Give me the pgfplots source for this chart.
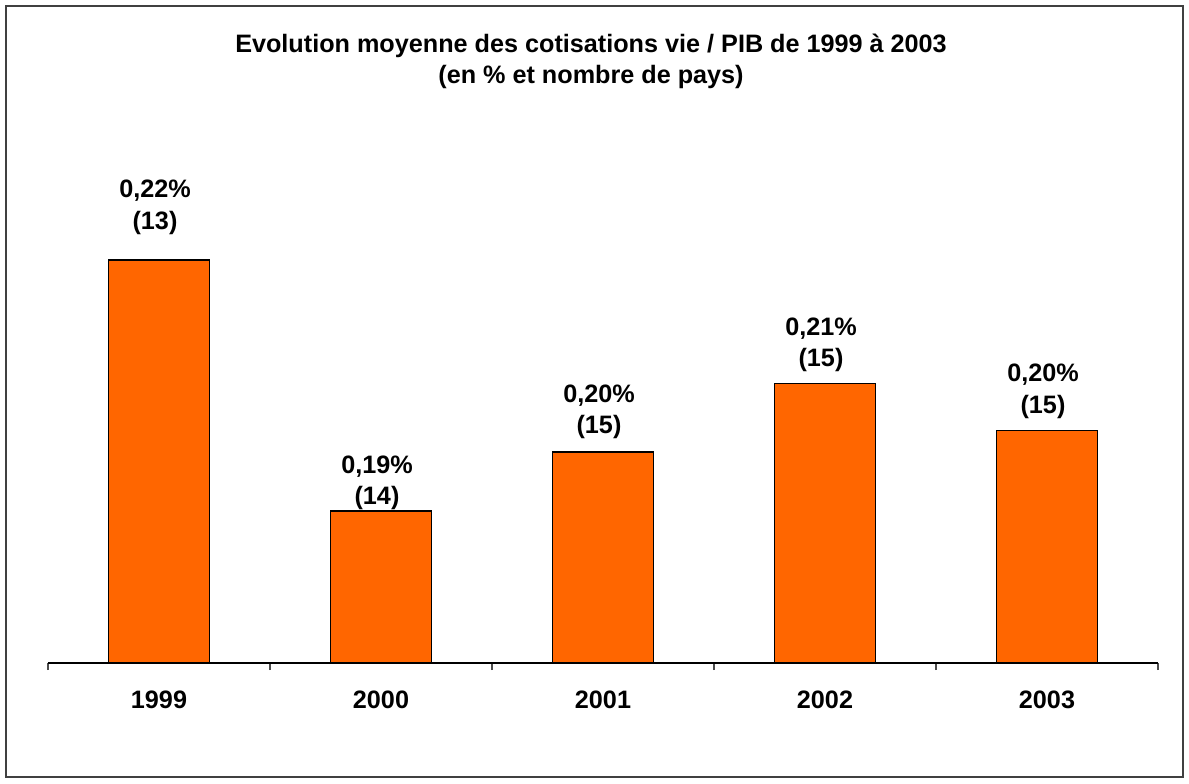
\documentclass[border=0pt]{standalone}
\usepackage{fontspec}
\setmainfont{Liberation Sans}
\usepackage{pgfplots}
\usepackage{pgfplotstable}
\pgfplotsset{compat=1.18}
\definecolor{barorange}{HTML}{FF6600}

\pgfplotstableread{
x y dy lab
0 0.2200 12.5 0,22\%\\(13)
1 0.1920 0 0,19\%\\(14)
2 0.1986 6 0,20\%\\(15)
3 0.2062 5.5 0,21\%\\(15)
4 0.2010 5.5 0,20\%\\(15)
}\datatable

\begin{document}
\begin{tikzpicture}
\begin{axis}[
    at={(0pt,0pt)}, anchor=south west,
    scale only axis,
    width=555pt, height=281.5pt,
    xmin=-0.5, xmax=4.5,
    ymin=0.175, ymax=0.2379,
    axis x line*=bottom,
    axis y line=none,
    x axis line style={-, line width=0.6pt},
    xtick={0,1,2,3,4},
    xticklabels={1999,2000,2001,2002,2003},
    minor xtick={-0.5,0.5,1.5,2.5,3.5,4.5},
    major tick length=0pt,
    minor tick length=3.5pt,
    tick align=outside,
    minor tick style={black!70, line width=0.6pt},
    xticklabel style={font=\fontsize{12.6}{15.8}\selectfont\bfseries,
        anchor=base, inner sep=0pt, yshift=-22.5pt},
    clip=true,
]
\addplot[ybar, bar width=50.5pt, fill=barorange, draw=black, line width=0.75pt,
    point meta=explicit symbolic,
    visualization depends on={\thisrow{dy} \as \dy},
    nodes near coords,
    every node near coord/.append style={anchor=south, inner sep=0pt,
        align=center, font=\fontsize{12.6}{15.8}\selectfont\bfseries,
        xshift=-2pt, yshift=\dy pt},
] table[x=x, y=y, meta=lab] \datatable;
\end{axis}
\node[anchor=base, font=\fontsize{12.6}{15.8}\selectfont\bfseries] at (271.5pt,305pt)
    {Evolution moyenne des cotisations vie / PIB de 1999 à 2003};
\node[anchor=base, font=\fontsize{12.6}{15.8}\selectfont\bfseries] at (271.5pt,289.5pt)
    {(en \% et nombre de pays)};
\draw[black!75, line width=1pt] (-21pt,-57pt) rectangle (567.5pt,328.5pt);
\useasboundingbox (-24pt,-60pt) rectangle (570.5pt,331.5pt);
\end{tikzpicture}
\end{document}
